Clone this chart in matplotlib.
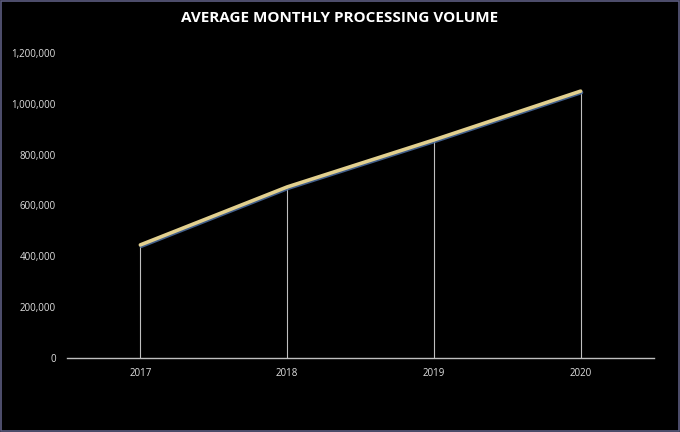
import matplotlib
matplotlib.use("Agg")
import matplotlib.pyplot as plt
from matplotlib.ticker import FuncFormatter
import matplotlib.patheffects as pe

years = ["2017", "2018", "2019", "2020"]
volume = [445000, 673000, 858000, 1050000]
yticks = [0, 200000, 400000, 600000, 800000, 1000000, 1200000]

plt.rcParams['font.family'] = ['Open Sans', 'DejaVu Sans']

fig = plt.figure(figsize=(6.8, 4.32), dpi=100, facecolor='black')
ax = fig.add_axes([67/680, 1-358/432, (654-67)/680, (358-53)/432])
ax.set_facecolor('black')

x = list(range(len(years)))
ax.vlines(x, 0, volume, colors='#bfbfbf', linewidth=0.8, zorder=2)
ax.plot(x, volume, color='#e2d08f', linewidth=2.6, zorder=3, solid_capstyle='round',
        path_effects=[pe.SimpleLineShadow(offset=(0.6, -1.0), shadow_color='#4a6a9a', alpha=0.9),
                      pe.Normal()])

ax.set_xlim(-0.5, len(years)-0.5)
ax.set_ylim(0, 1200000)
ax.set_xticks(x)
ax.set_xticklabels(years)
ax.set_yticks(yticks)
ax.yaxis.set_major_formatter(FuncFormatter(lambda v, p: f"{int(v):,}"))

for s in ['top', 'right', 'left']:
    ax.spines[s].set_visible(False)
ax.spines['bottom'].set_color('#bfbfbf')
ax.spines['bottom'].set_linewidth(1.0)
ax.tick_params(axis='both', length=0, colors='#e0e0e0', labelsize=7)
ax.tick_params(axis='x', pad=7)
ax.tick_params(axis='y', pad=8)

fig.text(0.5, 1-18/432, "AVERAGE MONTHLY PROCESSING VOLUME", ha='center', va='center',
         color='white', fontsize=11, fontweight='bold')

border = plt.Rectangle((0.001, 0.002), 0.997, 0.995, transform=fig.transFigure,
                       fill=False, edgecolor='#5c5c80', linewidth=1.2)
fig.patches.append(border)

fig.savefig("out.png", dpi=100, facecolor='black')
